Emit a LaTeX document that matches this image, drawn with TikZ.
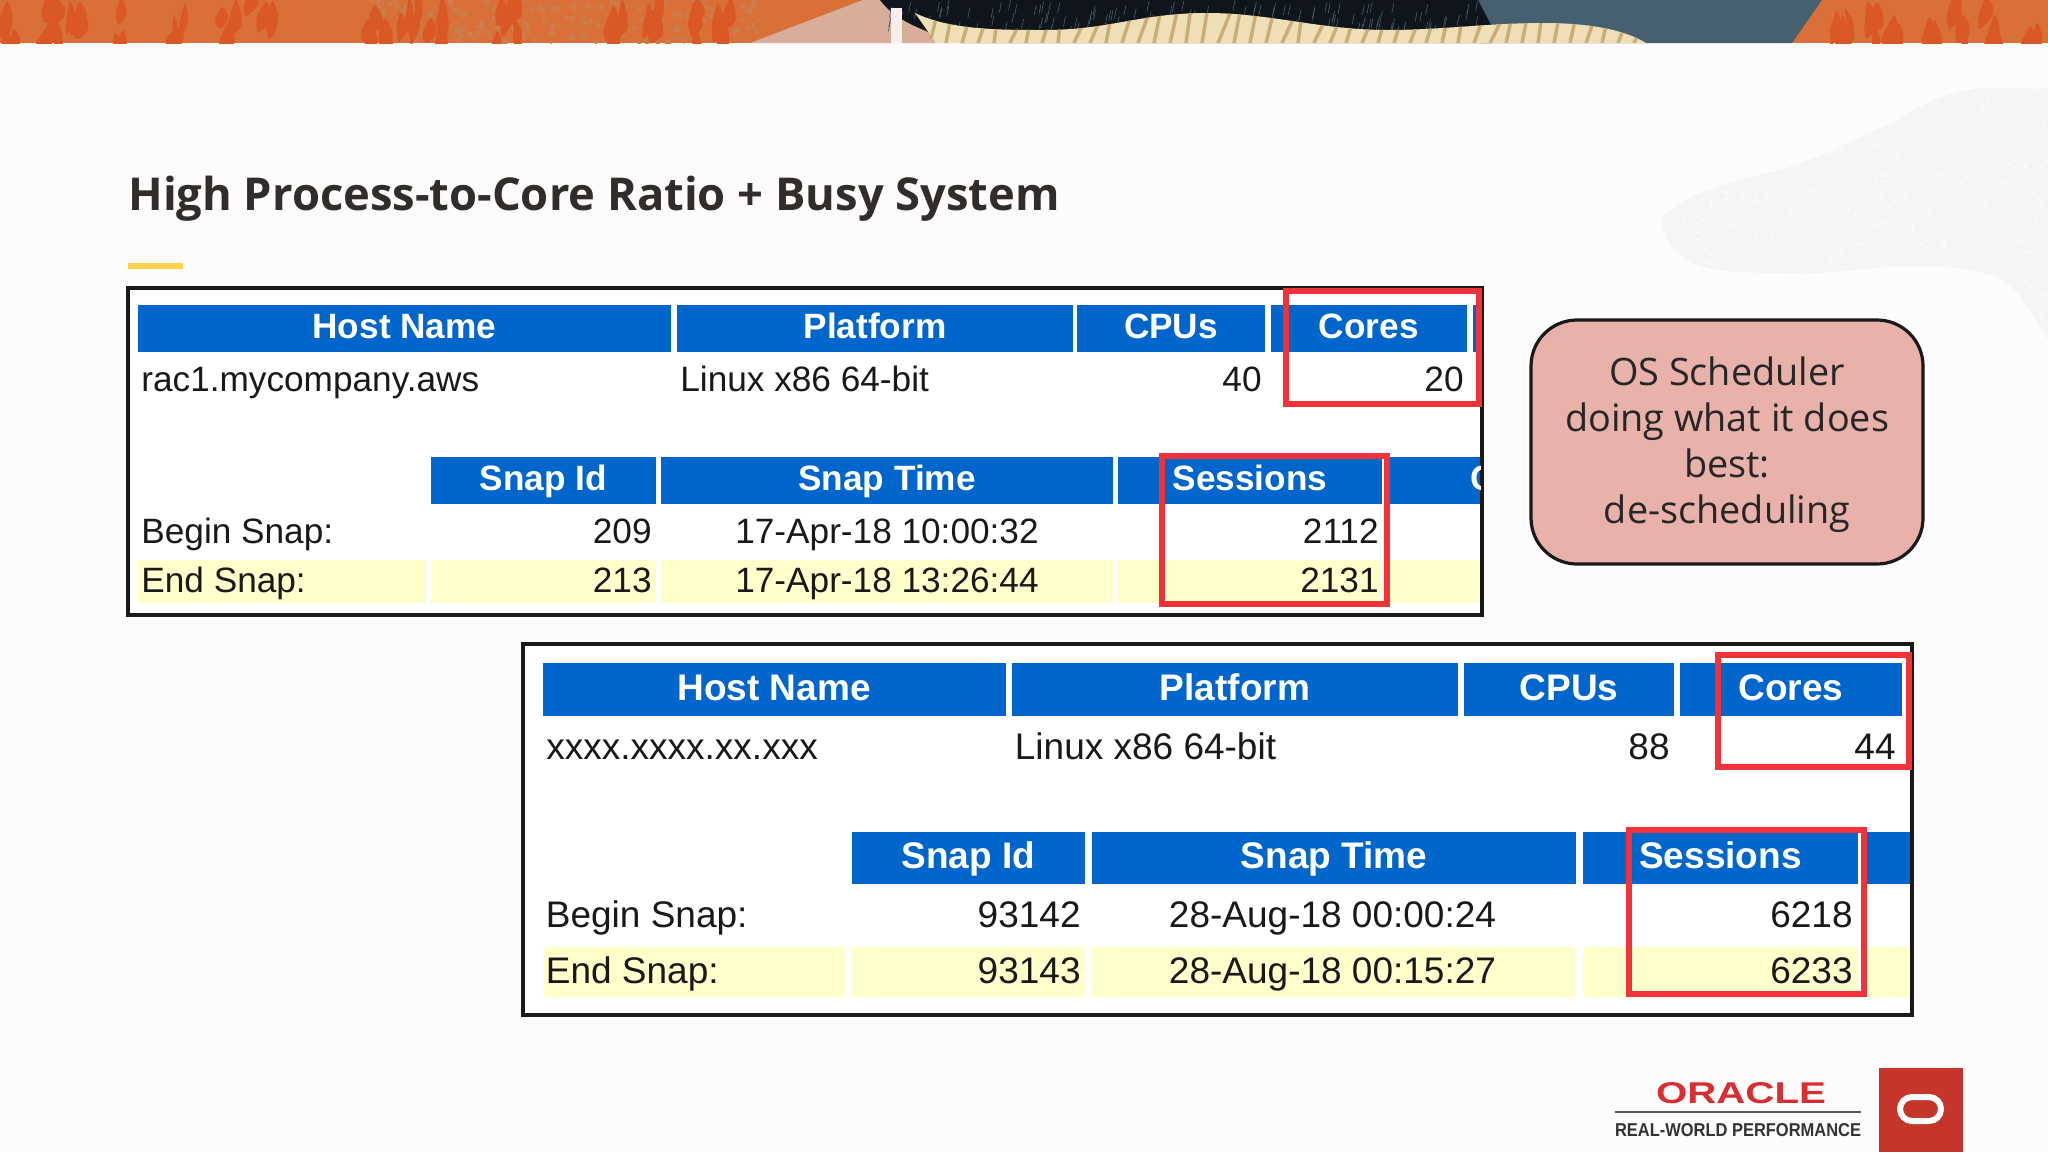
\documentclass[tikz,border=0pt]{standalone}
\usepackage{fontspec}
\setmainfont{Open Sans}
\newfontfamily\tablefont{Liberation Sans}
\usetikzlibrary{positioning,calc}
\definecolor{pagebg}{HTML}{FEFBFC}
\definecolor{rust}{HTML}{D9703A}
\definecolor{rustdark}{HTML}{DA5826}
\definecolor{rustpale}{HTML}{CC7C48}
\definecolor{peach}{HTML}{D8AE9B}
\definecolor{ink}{HTML}{10151C}
\definecolor{slate}{HTML}{46606F}
\definecolor{cream}{HTML}{EEDFB6}
\definecolor{tan}{HTML}{C9AC78}
\definecolor{titleink}{HTML}{312D2A}
\definecolor{hdrblue}{HTML}{0066CC}
\definecolor{rowyellow}{HTML}{FFFFCC}
\definecolor{markred}{HTML}{EF3338}
\definecolor{calloutpink}{HTML}{E8B1AA}
\definecolor{logored}{HTML}{C5352B}
\definecolor{blobgray}{HTML}{F6F4F5}
\begin{document}
\begin{tikzpicture}
[x=.5pt,y=-.5pt,
%
smalltext/.style={inner sep=0pt,font=\tablefont\fontsize{17.6}{21}\selectfont,text=black!90},
bigtext/.style={inner sep=0pt,font=\tablefont\fontsize{18.5}{22}\selectfont,text=black!90},
smallhdr/.style={smalltext,font=\tablefont\bfseries\fontsize{17.6}{21}\selectfont,text=white,anchor=base},
bighdr/.style={bigtext,font=\tablefont\bfseries\fontsize{18.5}{22}\selectfont,text=white,anchor=base},
%
framebox/.style={draw=black!90,line width=2pt,fill=white},
markbox/.style={draw=markred,line width=3pt},
callout/.style={draw=black!90,line width=1.6pt,fill=calloutpink,rounded corners=23pt,
  minimum width=196pt,minimum height=122pt,inner sep=0pt,align=center,text=black!85,
  font=\fontsize{18.9}{23}\selectfont}]
\useasboundingbox (0,0) rectangle (2048,1152);
\fill[pagebg] (0,0) rectangle (2048,1152);
\pgfmathsetseed{4711}
%
% top band
\begin{scope}
\clip (0,0) rectangle (2048,43);
\fill[rust] (0,0) rectangle (2048,43);
\foreach \i in {1,...,260}
\fill[rustpale] ({370+rnd*390},{rnd*43}) circle ({1+rnd*2.5});
\foreach \cx in {12,50,58,77,119,180,230,264,367,392,413,436,501,512,620,650,700,725,1843,1875,1900,1930,1960,1990,2030}
\foreach \k in {1,2,3}
\fill[rustdark,rounded corners=2pt] ({\cx+rnd*16-8},{rnd*43-12}) -- ++({3+rnd*6},{8+rnd*8}) -- ++({rnd*6-3},{8+rnd*14})
 -- ++({-6-rnd*8},{6+rnd*8}) -- ++({-rnd*5},{-10-rnd*10}) -- cycle;
\fill[peach] (750,43) -- (863,0) -- (890,0) -- (940,43) -- cycle;
\fill[slate] (1470,0) -- (1822,0) -- (1792,43) -- (1480,43) -- cycle;
\fill[ink] (880,0) -- (1478,0) -- (1491,25) -- (1491,43) -- (960,43) .. controls (920,30) and (895,20) .. cycle;
\foreach \i in {1,...,160}
\draw[slate,line width=.3pt] ({890+rnd*590},{rnd*30}) -- ++(-2,10);
\fill[pagebg!85!peach] (891,8) rectangle (902,43);
\fill[cream] (915,13) .. controls (950,30) and (1000,30) .. (1044,30) .. controls (1110,30) and (1140,13) .. (1207,13)
 .. controls (1270,13) and (1320,30) .. (1388,30) .. controls (1440,30) and (1490,23) .. (1543,23)
 .. controls (1590,23) and (1625,30) .. (1646,43) -- (936,43) -- cycle;
\clip (915,13) .. controls (950,30) and (1000,30) .. (1044,30) .. controls (1110,30) and (1140,13) .. (1207,13)
 .. controls (1270,13) and (1320,30) .. (1388,30) .. controls (1440,30) and (1490,23) .. (1543,23)
 .. controls (1590,23) and (1625,30) .. (1646,43) -- (936,43) -- cycle;
\foreach \x in {930,946,...,1650}
\draw[tan,line width=1.7pt] (\x,43) -- ++({4+rnd*14},-34);
\end{scope}
%
% watermark
\begin{scope}
\clip (1662,217) .. controls (1690,190) and (1740,180) .. (1780,170) .. controls (1830,155) and (1860,135) .. (1893,123)
 .. controls (1925,100) and (1960,88) .. (1987,88) -- (2048,88) -- (2048,340) .. controls (2030,310) and (2020,290) .. (1997,277)
 .. controls (1960,265) and (1920,265) .. (1887,267) .. controls (1850,270) and (1820,275) .. (1787,273)
 .. controls (1750,273) and (1720,272) .. (1703,267) .. controls (1680,260) and (1660,240) .. cycle;
\fill[blobgray] (1650,80) rectangle (2048,345);
\foreach \i in {1,...,1100}
\draw[pagebg,line width=.5pt] ({1650+rnd*398},{85+rnd*260}) -- ++({-5+rnd*10},{-5+rnd*10});
\end{scope}
%
% title
\node[inner sep=0pt,anchor=base west,text=titleink,font=\bfseries\fontsize{22.65}{28}\selectfont] (title) at (128,210) {High Process-to-Core Ratio + Busy System};
\fill[yellow!55!orange!70] (128,263) rectangle (183,269);
%
% first report
\draw[framebox] (128,288) rectangle (1482,615);
\foreach \name/\xa/\xb/\ya/\yb/\base/\txt in {
 hostA/138/671/305/352/338/Host Name,
 platA/677/1073/305/352/338/Platform,
 cpusA/1077/1265/305/352/338/CPUs,
 coresA/1270.5/1467/305/352/338/Cores,
 snapidA/431/656/457/504/490/Snap Id,
 snaptimeA/661/1113/457/504/490/Snap Time,
 sessA/1118/1382/457/504/490/Sessions}
{
\fill[hdrblue] (\xa,\ya) rectangle (\xb,\yb);
\node[smallhdr] (\name) at ({(\xa+\xb)/2},\base) {\txt};
}
\fill[hdrblue] (1473,305) rectangle (1480,352);
\begin{scope}
\clip (1388,457) rectangle (1480,504);
\fill[hdrblue] (1388,457) rectangle (1480,504);
\node[smallhdr,anchor=base west] (moreA) at (1470,490) {C};
\end{scope}
\foreach \xa/\xb in {138/426,431/656,661/1113,1118/1382,1388/1480}
\fill[rowyellow] (\xa,560) rectangle (\xb,603);
\node[smalltext,anchor=base west] (hvalA) at (141,391) {rac1.mycompany.aws};
\node[smalltext,anchor=base west] (pvalA) at (680,391) {Linux x86 64-bit};
\node[smalltext,anchor=base east] (cvalA) at (1262,391) {40};
\node[smalltext,anchor=base east] (kvalA) at (1464,391) {20};
\node[smalltext,anchor=base west] (beginA) at (141,543) {Begin Snap:};
\node[smalltext,anchor=base east] (bidA) at (652,543) {209};
\node[smalltext,anchor=base] (btimeA) at (887,543) {17-Apr-18 10:00:32};
\node[smalltext,anchor=base east] (bsessA) at (1379,543) {2112};
\node[smalltext,anchor=base west] (endA) at (141,592) {End Snap:};
\node[smalltext,anchor=base east] (eidA) at (652,592) {213};
\node[smalltext,anchor=base] (etimeA) at (887,592) {17-Apr-18 13:26:44};
\node[smalltext,anchor=base east] (esessA) at (1379,592) {2131};
\draw[markbox] (1286,291) rectangle (1479,404);
\draw[markbox] (1162,456) rectangle (1387,604);
%
% callout
\node[callout] (sched) at (1727,442) {\rule{0pt}{17pt}OS Scheduler\\doing what it does\\best:\\de-scheduling};
%
% second report
\draw[framebox] (522.5,643.5) rectangle (1912,1015);
\foreach \name/\xa/\xb/\ya/\yb/\base/\txt in {
 hostB/542.6/1005.5/663/716/700/Host Name,
 platB/1012/1458/663/716/700/Platform,
 cpusB/1464/1674/663/716/700/CPUs,
 coresB/1680/1902/663/716/700/Cores,
 snapidB/852/1085/832/884/868/Snap Id,
 snaptimeB/1092/1576/832/884/868/Snap Time,
 sessB/1583/1858/832/884/868/Sessions}
{
\fill[hdrblue] (\xa,\ya) rectangle (\xb,\yb);
\node[bighdr] (\name) at ({(\xa+\xb)/2},\base) {\txt};
}
\fill[hdrblue] (1864,832) rectangle (1910,884);
\foreach \xa/\xb in {542.6/845,852/1085,1092/1576,1583/1858,1864/1910}
\fill[rowyellow] (\xa,947) rectangle (\xb,997);
\node[bigtext,anchor=base west] (hvalB) at (546,759) {xxxx.xxxx.xx.xxx};
\node[bigtext,anchor=base west] (pvalB) at (1014.5,759) {Linux x86 64-bit};
\node[bigtext,anchor=base east] (cvalB) at (1670,759) {88};
\node[bigtext,anchor=base east] (kvalB) at (1896,759) {44};
\node[bigtext,anchor=base west] (beginB) at (545.5,927) {Begin Snap:};
\node[bigtext,anchor=base east] (bidB) at (1081,927) {93142};
\node[bigtext,anchor=base] (btimeB) at (1332.5,927) {28-Aug-18 00:00:24};
\node[bigtext,anchor=base east] (bsessB) at (1853,927) {6218};
\node[bigtext,anchor=base west] (endB) at (545.5,983) {End Snap:};
\node[bigtext,anchor=base east] (eidB) at (1081,983) {93143};
\node[bigtext,anchor=base] (etimeB) at (1332.5,983) {28-Aug-18 00:15:27};
\node[bigtext,anchor=base east] (esessB) at (1853,983) {6233};
\draw[markbox] (1717.5,655) rectangle (1909,767);
\draw[markbox] (1629,830) rectangle (1864,994);
%
% logo
\node[inner sep=0pt,text=markred!90!black] (oracle) at (1741,1093.5) {\resizebox{85pt}{10.5pt}{\tablefont\bfseries ORACLE}};
\draw[black!65,line width=.7pt] (1615,1112) -- (1861,1112);
\node[inner sep=0pt,text=black!80] (rwp) at (1738,1130.5) {\resizebox{123pt}{6.5pt}{\tablefont\bfseries REAL-WORLD PERFORMANCE}};
\fill[logored] (1879,1068) rectangle (1963,1152);
\draw[white,line width=3pt,rounded corners=6pt] (1900,1097) rectangle (1941,1121);
\end{tikzpicture}
\end{document}
